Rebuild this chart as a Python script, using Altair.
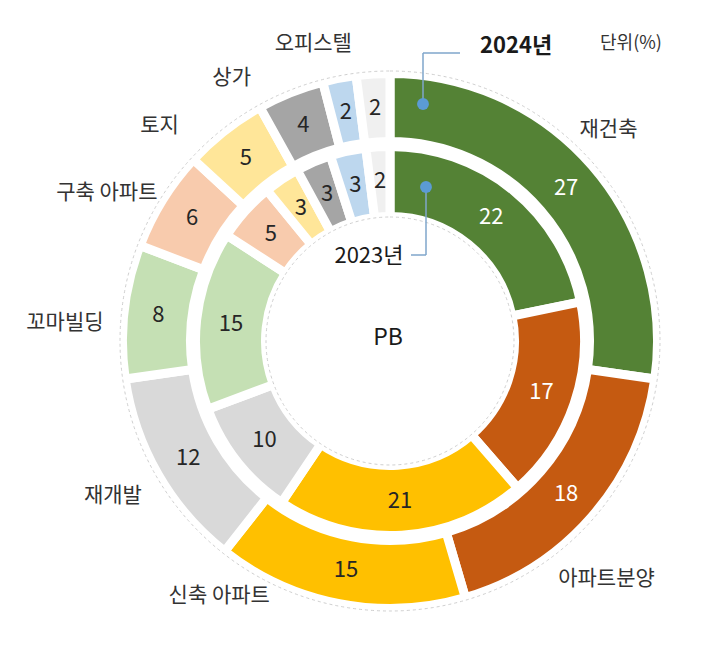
import altair as alt
import pandas as pd

FONT = "Noto Sans CJK KR"

# ---- data ----
CATEGORIES = ["재건축", "아파트분양", "신축 아파트", "재개발", "꼬마빌딩",
              "구축 아파트", "토지", "상가", "오피스텔", "기타"]
VALUES_2024 = [27, 18, 15, 12, 8, 6, 5, 4, 2, 2]
VALUES_2023 = [22, 17, 21, 10, 15, 5, 3, 3, 3, 2]
COLORS = ["#548235", "#C55A11", "#FFC000", "#D9D9D9", "#C5E0B4",
          "#F8CBAD", "#FFE699", "#A5A5A5", "#BDD7EE", "#F0F0F0"]
WHITE_TEXT = ["재건축", "아파트분양"]

# label nudges (style offsets for the outer category labels)
LABEL_NUDGE = {
    "재건축": (-12, -11), "아파트분양": (-14, 38), "신축 아파트": (-113, -44),
    "재개발": (-13, 2), "꼬마빌딩": (-22, 16), "구축 아파트": (-24, 13),
    "토지": (-42, 25), "상가": (-45, 20), "오피스텔": (-19, 2),
}

outer_df = pd.DataFrame({"cat": CATEGORIES, "v": VALUES_2024, "idx": list(range(len(CATEGORIES)))})
inner_df = pd.DataFrame({"cat": CATEGORIES, "v": VALUES_2023, "idx": list(range(len(CATEGORIES)))})
one = pd.DataFrame({"a": [0]})

color_scale = alt.Scale(domain=CATEGORIES, range=COLORS)
text_color = alt.condition(alt.FieldOneOfPredicate(field="cat", oneOf=WHITE_TEXT),
                           alt.value("#ffffff"), alt.value("#262626"))


def ring(df, r_out, r_in, r_text):
    base = alt.Chart(df).encode(
        theta=alt.Theta("v:Q", stack=True),
        order=alt.Order("idx:Q", sort="ascending"),
    )
    arcs = base.mark_arc(radius=r_out, radius2=r_in, stroke="white", strokeWidth=9).encode(
        color=alt.Color("cat:N", scale=color_scale, legend=None)
    )
    txt = base.mark_text(radius=r_text, fontSize=22, font=FONT).encode(
        text=alt.Text("v:Q"), color=text_color
    )
    return arcs, txt


outer_arcs, outer_txt = ring(outer_df, 267.5, 199.5, 233)
inner_arcs, inner_txt = ring(inner_df, 194.5, 124.5, 160)

circles = alt.Chart(pd.DataFrame({"r": [270, 124]})).mark_arc(
    theta=0, theta2=6.2832, fillOpacity=0, stroke="#cfcfcf", strokeDash=[3, 3], strokeWidth=1
).encode(radius=alt.Radius("r:Q", scale=None, stack=None))

label_layers = []
for c, (ddx, ddy) in LABEL_NUDGE.items():
    label_layers.append(
        alt.Chart(outer_df).mark_text(radius=305, dx=ddx, dy=ddy, fontSize=21, font=FONT,
                                      color="#333333").encode(
            theta=alt.Theta("v:Q", stack=True),
            order=alt.Order("idx:Q", sort="ascending"),
            text=alt.condition(alt.datum.cat == c, alt.Text("cat:N"), alt.value("")),
        )
    )

LINE = "#7FA6CB"
DOT = "#5B9BD5"
ann = [
    alt.Chart(one).mark_rule(color=LINE, strokeWidth=1.5).encode(x=alt.value(333), y=alt.value(12), y2=alt.value(63)),
    alt.Chart(one).mark_rule(color=LINE, strokeWidth=1.5).encode(x=alt.value(333), x2=alt.value(370), y=alt.value(12)),
    alt.Chart(one).mark_rule(color=LINE, strokeWidth=1.5).encode(x=alt.value(336), y=alt.value(146), y2=alt.value(214)),
    alt.Chart(one).mark_rule(color=LINE, strokeWidth=1.5).encode(x=alt.value(321), x2=alt.value(336), y=alt.value(214)),
    alt.Chart(one).mark_point(filled=True, size=140, color=DOT, opacity=1).encode(x=alt.value(333), y=alt.value(63)),
    alt.Chart(one).mark_point(filled=True, size=140, color=DOT, opacity=1).encode(x=alt.value(336), y=alt.value(146)),
    alt.Chart(one).mark_text(text="2024년", fontSize=22, fontWeight="bold", font=FONT, align="left",
                             baseline="middle", color="#1a1a1a").encode(x=alt.value(390), y=alt.value(5)),
    alt.Chart(one).mark_text(text="2023년", fontSize=22, font=FONT, align="center",
                             baseline="middle", color="#1a1a1a").encode(x=alt.value(279), y=alt.value(215)),
    alt.Chart(one).mark_text(text="단위(%)", fontSize=18, font=FONT, align="center",
                             baseline="middle", color="#333333").encode(x=alt.value(541), y=alt.value(3)),
    alt.Chart(one).mark_text(text="PB", fontSize=23, font=FONT, align="center",
                             baseline="middle", color="#1a1a1a").encode(x=alt.value(298), y=alt.value(297)),
]

chart = alt.layer(
    outer_arcs, inner_arcs, circles, outer_txt, inner_txt, *label_layers, *ann
).resolve_scale(theta="independent").properties(
    width=600, height=600, autosize="none", background="white",
    padding={"left": 82, "top": 33, "right": 0, "bottom": 0},
).configure_view(stroke=None)

chart.save("out.html", embed_options={"renderer": "svg", "actions": False})
